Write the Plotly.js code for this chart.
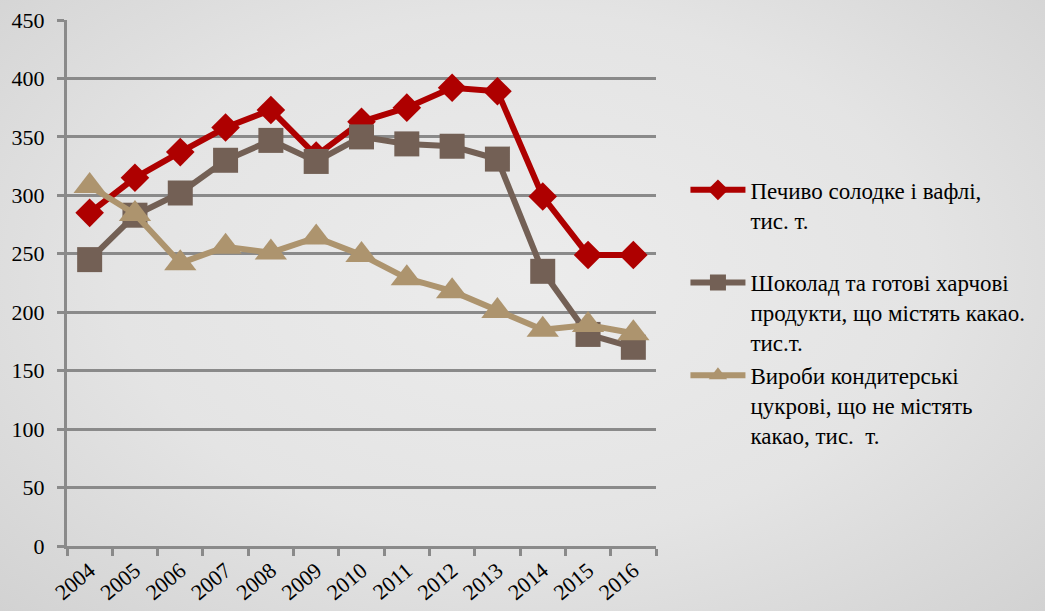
<!DOCTYPE html>
<html>
<head>
<meta charset="utf-8">
<script src="https://cdn.plot.ly/plotly-3.0.1.min.js"></script>
<style>
html,body{margin:0;padding:0;}
body{width:1045px;height:611px;overflow:hidden;
background:radial-gradient(ellipse at 50% 45%, #ececec 0%, #e4e4e4 55%, #d2d2d2 100%);}
#chart{width:1045px;height:611px;}
</style>
</head>
<body>
<div id="chart"></div>
<script>
const years = ['2004','2005','2006','2007','2008','2009','2010','2011','2012','2013','2014','2015','2016'];
const cookies = [285, 315, 337, 358, 373, 334, 363, 375, 392, 389, 299, 249, 249];
const chocolate = [245, 283, 302, 330, 347, 329, 350, 344, 342, 331, 235, 181, 170];
const sugarSweets = [308, 284, 242, 256, 251, 264, 249, 229, 218, 201, 185, 189, 182];
const names = [
  'Печиво солодке і вафлі,<br>тис. т.<br>\u00a0',
  'Шоколад та готові харчові<br>продукти, що містять какао.<br>тис.т.',
  'Вироби кондитерські<br>цукрові, що не містять<br>какао, тис.  т.'
];
const yTicks = [0, 50, 100, 150, 200, 250, 300, 350, 400, 450];
const SERIF = "'Liberation Serif', 'Times New Roman', Times, serif";

const traces = [
  {x: years, y: cookies, name: names[0], type: 'scatter', mode: 'lines+markers',
   line: {color: '#ae0000', width: 6},
   marker: {symbol: 'diamond', size: 22, color: '#ae0000'}},
  {x: years, y: chocolate, name: names[1], type: 'scatter', mode: 'lines+markers',
   line: {color: '#736055', width: 6},
   marker: {symbol: 'square', size: 25, color: '#736055'}},
  {x: years, y: sugarSweets, name: names[2], type: 'scatter', mode: 'lines+markers',
   line: {color: '#ad946e', width: 6},
   marker: {symbol: 'triangle-up', size: 28, color: '#ad946e'}}
];

const layout = {
  width: 1045, height: 611,
  margin: {l: 67, r: 389, t: 20, b: 65},
  paper_bgcolor: 'rgba(0,0,0,0)',
  plot_bgcolor: 'rgba(0,0,0,0)',
  font: {family: SERIF, size: 22, color: '#000'},
  showlegend: true,
  legend: {x: 1.05, y: 0.718, xanchor: 'left', yanchor: 'top', valign: 'top',
           itemwidth: 55, bgcolor: 'rgba(0,0,0,0)',
           font: {family: SERIF, size: 23, color: '#000'}},
  xaxis: {type: 'category', categoryorder: 'array', categoryarray: years,
          tickangle: -40, tickson: 'boundaries', ticks: 'outside', ticklen: 7, tickwidth: 3,
          tickcolor: '#8a8a8a', showline: true, linecolor: '#8a8a8a', linewidth: 3,
          tickfont: {family: SERIF, size: 22, color: '#000'},
          showgrid: false, zeroline: false, range: [-0.5, 12.5], fixedrange: true},
  yaxis: {range: [0, 450], tickvals: yTicks, ticktext: yTicks.map(String),
          ticks: 'outside', ticklen: 7, tickwidth: 3, tickcolor: '#8a8a8a',
          tickfont: {family: SERIF, size: 22, color: '#000'}, ticklabelstandoff: 8,
          showline: true, linecolor: '#8a8a8a', linewidth: 3,
          showgrid: true, gridcolor: '#8a8a8a', gridwidth: 3, zeroline: false,
          fixedrange: true}
};

Plotly.newPlot('chart', traces, layout, {displayModeBar: false, staticPlot: true});
</script>
</body>
</html>
